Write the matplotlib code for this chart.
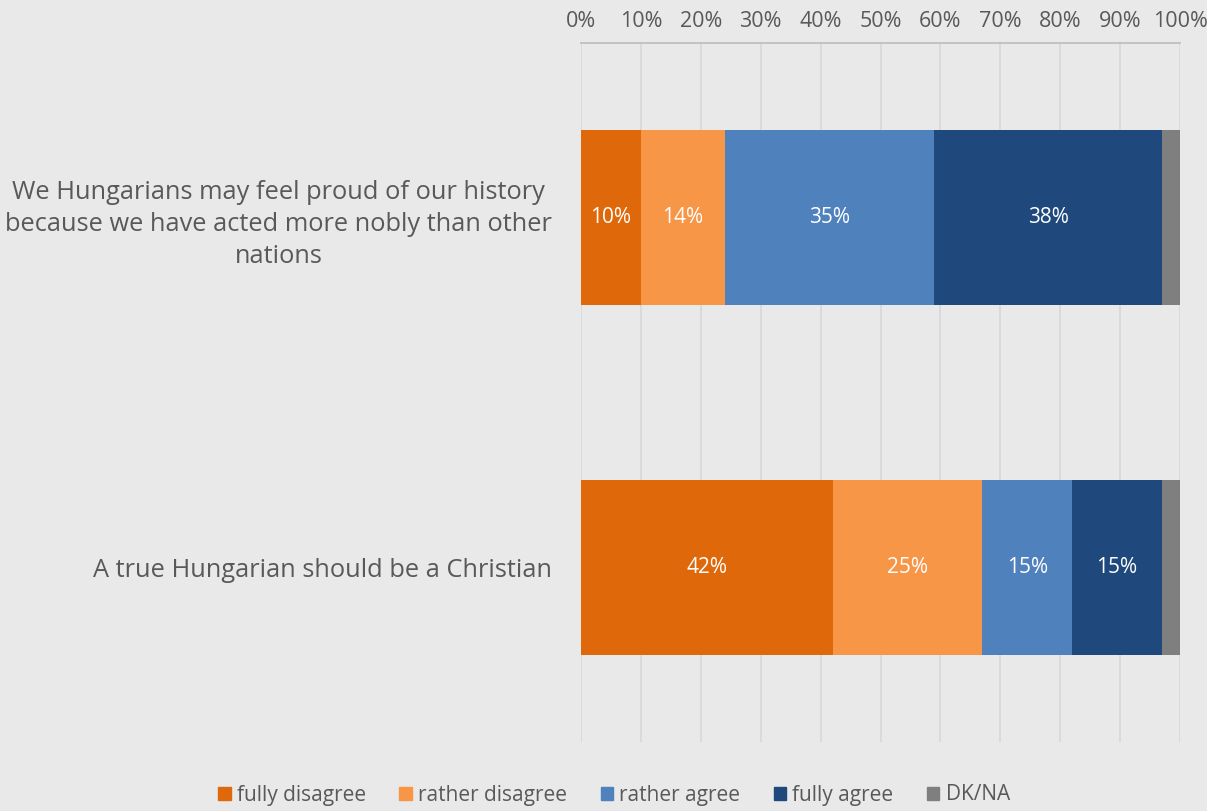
import matplotlib
matplotlib.use("Agg")
import matplotlib.pyplot as plt
import matplotlib.patches as mpatches
import numpy as np

# colours
BG = "#e9e9e9"
TEXT = "#595959"
GRID = "#d9d9d9"
COLORS = ["#df690a", "#f79646", "#4f81bd", "#1f497d", "#7f7f7f"]

categories = [
    "We Hungarians may feel proud of our history\nbecause we have acted more nobly than other\nnations",
    "A true Hungarian should be a Christian",
]
series_names = ["fully disagree", "rather disagree", "rather agree", "fully agree", "DK/NA"]
fully_disagree = [10, 42]
rather_disagree = [14, 25]
rather_agree = [35, 15]
fully_agree = [38, 15]
dk_na = [3, 3]
tick_values = [0, 10, 20, 30, 40, 50, 60, 70, 80, 90, 100]

plt.rcParams["font.family"] = ["Open Sans", "DejaVu Sans"]

fig = plt.figure(figsize=(12.07, 8.11), dpi=100, facecolor=BG)
ax = fig.add_axes([581 / 1207, 1 - 742 / 811, 599 / 1207, 699 / 811])
ax.set_facecolor(BG)

y = np.arange(len(categories))
left = np.zeros(len(categories))
series = [fully_disagree, rather_disagree, rather_agree, fully_agree, dk_na]
for name, vals, color in zip(series_names, series, COLORS):
    vals = np.array(vals, dtype=float)
    ax.barh(y, vals, left=left, height=0.5, color=color, label=name, zorder=3)
    if name != "DK/NA":
        for yi, l, v in zip(y, left, vals):
            ax.text(l + v / 2, yi, f"{v:.0f}%", ha="center", va="center",
                    color="white", fontsize=15, zorder=4)
    left += vals

ax.set_xlim(0, 100)
ax.set_ylim(1.5, -0.5)
ax.set_xticks(tick_values)
ax.set_xticklabels([f"{t}%" for t in tick_values])
ax.xaxis.tick_top()
ax.tick_params(axis="x", length=0, pad=8, labelsize=15.5, colors=TEXT)
ax.set_yticks(y)
ax.set_yticklabels(categories, fontsize=18.3, color=TEXT, ha="right",
                   multialignment="center", linespacing=1.38)
ax.tick_params(axis="y", length=0, pad=21)

ax.grid(axis="x", color=GRID, linewidth=1.3, zorder=0)
for side in ["right", "bottom", "left"]:
    ax.spines[side].set_visible(False)
ax.spines["top"].set_color("#bfbfbf")
ax.spines["top"].set_linewidth(1.3)

handles = [mpatches.Patch(color=c, label=n) for n, c in zip(series_names, COLORS)]
fig.legend(handles=handles, loc="center", bbox_to_anchor=(614 / 1207, 1 - 795 / 811),
           ncol=5, frameon=False, fontsize=15, handlelength=0.6, handleheight=0.6,
           handletextpad=0.3, columnspacing=1.6, labelcolor=TEXT)

fig.savefig("out.png", dpi=100, facecolor=BG)
